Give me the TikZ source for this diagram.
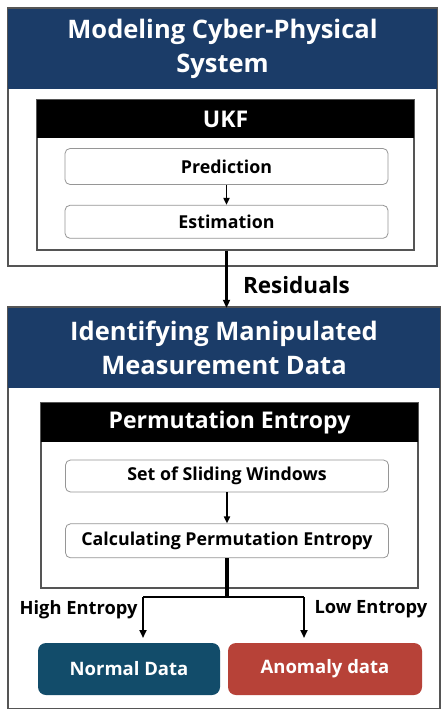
\documentclass[tikz,border=0pt]{standalone}
\usepackage{fontspec}
\setmainfont{Open Sans}
\usetikzlibrary{arrows.meta,positioning,calc}

\definecolor{navy}{RGB}{27,60,104}
\definecolor{normalblue}{RGB}{18,76,106}
\definecolor{anomalyred}{RGB}{183,66,56}
\definecolor{framegray}{RGB}{85,85,85}
\definecolor{stepgray}{RGB}{150,150,150}

\begin{document}
\begin{tikzpicture}[
    x=1pt, y=-1pt,
    frame/.style={rectangle, draw=framegray, line width=1.6pt, fill=white},
    header/.style={rectangle, fill=navy, text=white, align=center, font=\bfseries\fontsize{25.5}{34}\selectfont},
    inner/.style={rectangle, draw=framegray, line width=1.3pt, fill=white},
    blackbar/.style={rectangle, fill=black, text=white, align=center, font=\bfseries\fontsize{23}{26}\selectfont},
    stepbox/.style={rectangle, draw=stepgray, line width=0.8pt, rounded corners=5pt, fill=white, minimum width=323pt, font=\bfseries\fontsize{17.8}{20}\selectfont},
    result/.style={rectangle, rounded corners=8pt, text=white, minimum height=52pt, font=\bfseries\fontsize{18.5}{22}\selectfont},
    arrow/.style={-{Triangle[length=8pt,width=7pt]}, line width=2.4pt},
    steparrow/.style={-{Triangle[length=7pt,width=6pt]}, line width=1.9pt},
    label/.style={font=\bfseries\fontsize{18.3}{22}\selectfont}
]
    \useasboundingbox (0,0) rectangle (440,709);

    % Modeling block
    \node[frame, minimum width=429pt, minimum height=258pt] (modelbox) at (222.5,137) {};
    \node[header, minimum width=429pt, minimum height=80pt] (modelhead) at (222.5,49) {Modeling Cyber-Physical\\System};
    \node[inner, minimum width=377pt, minimum height=150pt] (ukfbox) at (225.5,175) {};
    \node[blackbar, minimum width=377pt, minimum height=38pt] (ukfhead) at (225.5,119) {UKF};
    \node[stepbox, minimum height=36pt] (predict) at (226.5,166.5) {Prediction};
    \node[stepbox, minimum height=33pt, below=20pt of predict] (estimate) {Estimation};

    % Identification block
    \node[frame, minimum width=432pt, minimum height=402pt] (identbox) at (224,508) {};
    \node[header, minimum width=432pt, minimum height=80pt] (identhead) at (224,348) {Identifying Manipulated\\Measurement Data};
    \node[inner, minimum width=377pt, minimum height=185pt] (pebox) at (229.5,495.5) {};
    \node[blackbar, minimum width=377pt, minimum height=39pt] (pehead) at (229.5,422.5) {Permutation Entropy};
    \node[stepbox, minimum height=32pt] (windows) at (227,476) {Set of Sliding Windows};
    \node[stepbox, minimum height=34pt, below=31pt of windows] (calcpe) {Calculating Permutation Entropy};

    % Results
    \node[result, fill=normalblue, minimum width=182pt] (normal) at (129,669) {Normal Data};
    \node[result, fill=anomalyred, minimum width=194pt] (anomaly) at (325,669) {Anomaly data};

    % Residuals between the blocks
    \draw[arrow] (ukfbox.south -| predict) -- (identhead.north -| predict)
        node[label, pos=0.6, right=12pt, font=\bfseries\fontsize{22.5}{26}\selectfont] (resid) {Residuals};

    \draw[steparrow] (predict) -- (estimate);
    \draw[steparrow] (windows) -- (calcpe);

    % Entropy split
    \coordinate (split) at ($(calcpe.south)+(0,40)$);
    \coordinate (highend) at (143,597);
    \coordinate (lowend) at (304,597);
    \draw[line width=3.2pt] (calcpe.south) -- (split);
    \draw[line width=2.6pt] (highend) -- (lowend);
    \draw[arrow] (highend) -- ++(0,41) node[label, pos=0.3, left=1pt] (high) {High Entropy};
    \draw[arrow] (lowend) -- ++(0,41) node[label, pos=0.3, right=6pt] (low) {Low Entropy};
\end{tikzpicture}
\end{document}
